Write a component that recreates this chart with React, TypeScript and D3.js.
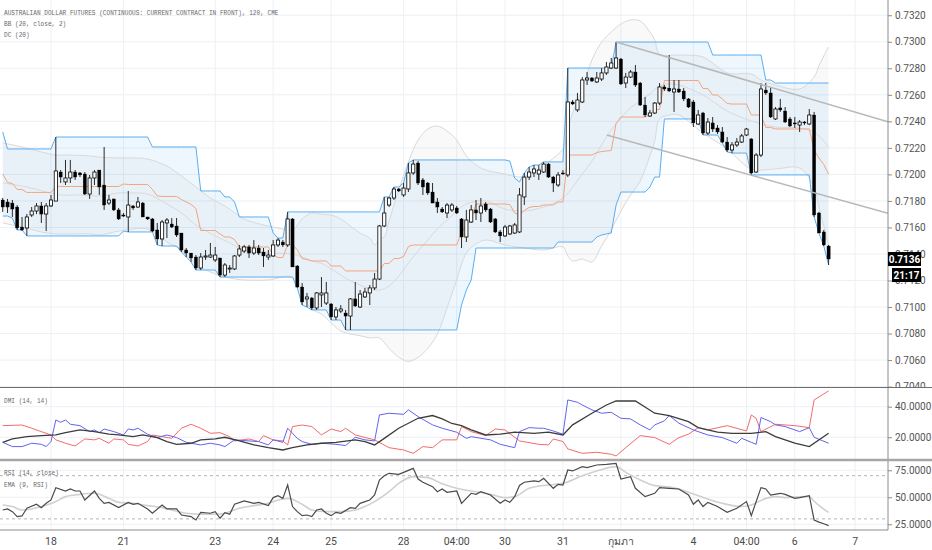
import React, { useRef, useEffect } from 'react';
import * as d3 from 'd3';

type Pt = [number, number];

// 120-minute bars, [open, high, low, close]
const candles: [number, number, number, number][] = [
  [0.71807, 0.71822, 0.71717, 0.71754], [0.71792, 0.71815, 0.71709, 0.71754], [0.71784, 0.71807, 0.71679, 0.71739],
  [0.71754, 0.71769, 0.71581, 0.71596], [0.71603, 0.71679, 0.71573, 0.71581], [0.71596, 0.71701, 0.71536, 0.71679],
  [0.71694, 0.71754, 0.71679, 0.71724], [0.71724, 0.71784, 0.71701, 0.71762], [0.71762, 0.71792, 0.71634, 0.71701],
  [0.71701, 0.71784, 0.71573, 0.71762], [0.71762, 0.71845, 0.71754, 0.71807], [0.71799, 0.72282, 0.71799, 0.72026],
  [0.72018, 0.72033, 0.71935, 0.71980], [0.71943, 0.72109, 0.71920, 0.71973], [0.71973, 0.72109, 0.71935, 0.72018],
  [0.72018, 0.72033, 0.71958, 0.71980], [0.72011, 0.72018, 0.71980, 0.71996], [0.72003, 0.72018, 0.71845, 0.71852],
  [0.71852, 0.71996, 0.71815, 0.71973], [0.71973, 0.72033, 0.71920, 0.72018], [0.72033, 0.72033, 0.71845, 0.71905],
  [0.71920, 0.72207, 0.71732, 0.71769], [0.71784, 0.71845, 0.71769, 0.71807], [0.71815, 0.71815, 0.71724, 0.71732],
  [0.71732, 0.71747, 0.71656, 0.71664], [0.71694, 0.71709, 0.71679, 0.71686], [0.71679, 0.71875, 0.71566, 0.71769],
  [0.71762, 0.71769, 0.71732, 0.71747], [0.71754, 0.71830, 0.71747, 0.71792], [0.71784, 0.71792, 0.71679, 0.71679],
  [0.71679, 0.71679, 0.71656, 0.71664], [0.71664, 0.71671, 0.71566, 0.71573], [0.71581, 0.71634, 0.71468, 0.71513],
  [0.71513, 0.71656, 0.71460, 0.71641], [0.71634, 0.71671, 0.71520, 0.71656], [0.71626, 0.71671, 0.71596, 0.71603],
  [0.71611, 0.71671, 0.71528, 0.71543], [0.71558, 0.71558, 0.71415, 0.71430], [0.71430, 0.71445, 0.71377, 0.71407],
  [0.71407, 0.71407, 0.71340, 0.71370], [0.71377, 0.71392, 0.71279, 0.71294], [0.71294, 0.71407, 0.71279, 0.71377],
  [0.71377, 0.71430, 0.71355, 0.71385], [0.71377, 0.71483, 0.71370, 0.71392], [0.71355, 0.71453, 0.71340, 0.71392],
  [0.71370, 0.71370, 0.71226, 0.71241], [0.71241, 0.71332, 0.71226, 0.71317], [0.71287, 0.71317, 0.71257, 0.71294],
  [0.71287, 0.71392, 0.71279, 0.71385], [0.71392, 0.71468, 0.71377, 0.71438], [0.71422, 0.71468, 0.71407, 0.71453],
  [0.71453, 0.71468, 0.71370, 0.71407], [0.71407, 0.71505, 0.71392, 0.71445], [0.71445, 0.71468, 0.71392, 0.71407],
  [0.71415, 0.71445, 0.71302, 0.71385], [0.71377, 0.71430, 0.71355, 0.71392], [0.71385, 0.71505, 0.71377, 0.71468],
  [0.71468, 0.71520, 0.71453, 0.71505], [0.71490, 0.71505, 0.71453, 0.71468], [0.71468, 0.71717, 0.71453, 0.71664],
  [0.71664, 0.71671, 0.71302, 0.71302], [0.71309, 0.71317, 0.71144, 0.71151], [0.71151, 0.71181, 0.71015, 0.71038],
  [0.71061, 0.71106, 0.71000, 0.71076], [0.71068, 0.71076, 0.70978, 0.70993], [0.70993, 0.71113, 0.70978, 0.71106],
  [0.71091, 0.71226, 0.71000, 0.71106], [0.71030, 0.71189, 0.71015, 0.71106], [0.71023, 0.71030, 0.70902, 0.70925],
  [0.70925, 0.71000, 0.70902, 0.70978], [0.70970, 0.71015, 0.70955, 0.70985], [0.70955, 0.70978, 0.70827, 0.70932],
  [0.70932, 0.71068, 0.70827, 0.71061], [0.71061, 0.71189, 0.71000, 0.71008], [0.71000, 0.71128, 0.70993, 0.71098],
  [0.71076, 0.71144, 0.71068, 0.71113], [0.71106, 0.71166, 0.71015, 0.71144], [0.71144, 0.71257, 0.71128, 0.71211],
  [0.71211, 0.71619, 0.71204, 0.71611], [0.71611, 0.71830, 0.71603, 0.71709], [0.71769, 0.71830, 0.71754, 0.71822],
  [0.71822, 0.71905, 0.71807, 0.71890], [0.71890, 0.71897, 0.71867, 0.71875], [0.71845, 0.71935, 0.71830, 0.71897],
  [0.71890, 0.72086, 0.71867, 0.72011], [0.72011, 0.72109, 0.71996, 0.72078], [0.72086, 0.72101, 0.71920, 0.71935],
  [0.71958, 0.71973, 0.71845, 0.71905], [0.71935, 0.71943, 0.71845, 0.71860], [0.71867, 0.71935, 0.71784, 0.71784],
  [0.71792, 0.71822, 0.71709, 0.71754], [0.71739, 0.71754, 0.71709, 0.71717], [0.71709, 0.71784, 0.71671, 0.71769],
  [0.71732, 0.71784, 0.71717, 0.71769], [0.71747, 0.71762, 0.71701, 0.71709], [0.71664, 0.71671, 0.71445, 0.71528],
  [0.71528, 0.71732, 0.71490, 0.71656], [0.71641, 0.71769, 0.71634, 0.71732], [0.71732, 0.71807, 0.71656, 0.71709],
  [0.71709, 0.71822, 0.71641, 0.71762], [0.71777, 0.71792, 0.71717, 0.71732], [0.71739, 0.71747, 0.71634, 0.71641],
  [0.71664, 0.71671, 0.71558, 0.71566], [0.71566, 0.71581, 0.71490, 0.71536], [0.71536, 0.71619, 0.71528, 0.71603],
  [0.71551, 0.71619, 0.71543, 0.71611], [0.71558, 0.71634, 0.71551, 0.71619], [0.71566, 0.71897, 0.71558, 0.71845],
  [0.71830, 0.72011, 0.71769, 0.71980], [0.71980, 0.72056, 0.71958, 0.72018], [0.72011, 0.72071, 0.71980, 0.72041],
  [0.72003, 0.72071, 0.71958, 0.72033], [0.72018, 0.72094, 0.72011, 0.72078], [0.72078, 0.72086, 0.71973, 0.71980],
  [0.71980, 0.71988, 0.71867, 0.71935], [0.71920, 0.72018, 0.71905, 0.71996], [0.72011, 0.72033, 0.71996, 0.72003],
  [0.71996, 0.72802, 0.71980, 0.72546], [0.72546, 0.72561, 0.72523, 0.72531], [0.72486, 0.72614, 0.72471, 0.72561],
  [0.72546, 0.72734, 0.72538, 0.72712], [0.72712, 0.72772, 0.72674, 0.72727], [0.72727, 0.72734, 0.72697, 0.72704],
  [0.72697, 0.72772, 0.72689, 0.72727], [0.72719, 0.72802, 0.72704, 0.72765], [0.72765, 0.72848, 0.72750, 0.72810],
  [0.72802, 0.72878, 0.72795, 0.72840], [0.72802, 0.72998, 0.72795, 0.72878], [0.72870, 0.72878, 0.72674, 0.72682],
  [0.72689, 0.72765, 0.72651, 0.72734], [0.72734, 0.72787, 0.72727, 0.72772], [0.72772, 0.72825, 0.72659, 0.72674],
  [0.72689, 0.72697, 0.72516, 0.72523], [0.72523, 0.72584, 0.72433, 0.72448], [0.72440, 0.72486, 0.72433, 0.72463],
  [0.72463, 0.72546, 0.72455, 0.72538], [0.72538, 0.72689, 0.72523, 0.72659], [0.72659, 0.72674, 0.72629, 0.72644],
  [0.72651, 0.72900, 0.72621, 0.72629], [0.72621, 0.72712, 0.72471, 0.72644], [0.72644, 0.72712, 0.72614, 0.72621],
  [0.72629, 0.72651, 0.72553, 0.72569], [0.72569, 0.72576, 0.72501, 0.72508], [0.72546, 0.72561, 0.72357, 0.72388],
  [0.72380, 0.72486, 0.72372, 0.72448], [0.72463, 0.72471, 0.72297, 0.72312], [0.72312, 0.72425, 0.72297, 0.72395],
  [0.72388, 0.72433, 0.72320, 0.72342], [0.72350, 0.72372, 0.72305, 0.72320], [0.72320, 0.72357, 0.72237, 0.72244],
  [0.72244, 0.72282, 0.72169, 0.72184], [0.72184, 0.72244, 0.72161, 0.72222], [0.72222, 0.72274, 0.72207, 0.72244],
  [0.72244, 0.72305, 0.72237, 0.72290], [0.72297, 0.72350, 0.72290, 0.72342], [0.72267, 0.72274, 0.71996, 0.72011],
  [0.72018, 0.72161, 0.72011, 0.72146], [0.72146, 0.72689, 0.72131, 0.72644], [0.72636, 0.72689, 0.72599, 0.72614],
  [0.72614, 0.72659, 0.72425, 0.72433], [0.72418, 0.72508, 0.72410, 0.72493], [0.72501, 0.72569, 0.72471, 0.72486],
  [0.72478, 0.72508, 0.72388, 0.72395], [0.72418, 0.72433, 0.72357, 0.72365], [0.72388, 0.72433, 0.72350, 0.72380],
  [0.72372, 0.72410, 0.72320, 0.72395], [0.72395, 0.72403, 0.72372, 0.72388], [0.72380, 0.72493, 0.72372, 0.72448],
  [0.72448, 0.72471, 0.71679, 0.71694], [0.71709, 0.71717, 0.71558, 0.71558], [0.71566, 0.71581, 0.71460, 0.71468],
  [0.71460, 0.71468, 0.71317, 0.71362]
];

// Donchian channel (20): [first bar, value] steps
const dcUpperSteps: Pt[] = [
  [0, 0.72320], [1, 0.72192], [11, 0.72282], [31, 0.72207], [41, 0.71875], [46, 0.71830], [48, 0.71792],
  [49, 0.71679], [56, 0.71558], [57, 0.71520], [59, 0.71717], [79, 0.71830], [81, 0.71905], [83, 0.71935],
  [84, 0.72086], [85, 0.72109], [105, 0.72101], [106, 0.71973], [107, 0.71943], [108, 0.72011], [109, 0.72056],
  [110, 0.72071], [112, 0.72094], [117, 0.72802], [127, 0.72998], [147, 0.72900], [158, 0.72712], [160, 0.72689]
];
const dcLowerSteps: Pt[] = [
  [0, 0.71686], [2, 0.71671], [3, 0.71581], [5, 0.71536], [25, 0.71573], [26, 0.71566], [32, 0.71468],
  [33, 0.71460], [37, 0.71415], [38, 0.71377], [39, 0.71340], [40, 0.71279], [45, 0.71226], [61, 0.71144],
  [62, 0.71015], [63, 0.71000], [64, 0.70978], [68, 0.70902], [71, 0.70827], [95, 0.71015], [96, 0.71128],
  [97, 0.71204], [98, 0.71445], [115, 0.71490], [123, 0.71528], [124, 0.71543], [125, 0.71551], [126, 0.71558],
  [127, 0.71769], [128, 0.71867], [134, 0.71905], [135, 0.71980], [137, 0.72418], [145, 0.72297], [149, 0.72237],
  [150, 0.72169], [151, 0.72161], [155, 0.71996], [168, 0.71679], [169, 0.71558], [170, 0.71460], [171, 0.71317]
];

// Bollinger bands (20, close, 2)
const bbUpper: Pt[] = [
  [0, 0.72237], [4, 0.72207], [8, 0.72169], [11, 0.72146], [14, 0.72146], [18, 0.72139], [20, 0.72131],
  [24, 0.72124], [27, 0.72124], [30, 0.72116], [34, 0.72063], [37, 0.71988], [40, 0.71905], [43, 0.71822],
  [46, 0.71762], [50, 0.71664], [54, 0.71619], [57, 0.71596], [60, 0.71581], [62, 0.71664], [64, 0.71709],
  [66, 0.71701], [68, 0.71694], [70, 0.71664], [72, 0.71611], [74, 0.71558], [76, 0.71520], [77, 0.71468],
  [78, 0.71513], [79, 0.71528], [80, 0.71649], [81, 0.71769], [82, 0.71882], [84, 0.72094], [86, 0.72259],
  [88, 0.72342], [90, 0.72365], [92, 0.72327], [94, 0.72259], [96, 0.72139], [98, 0.72071], [100, 0.72033],
  [104, 0.72003], [107, 0.71980], [110, 0.72018], [113, 0.72094], [116, 0.72192], [117, 0.72342], [118, 0.72463],
  [120, 0.72644], [122, 0.72863], [124, 0.72997], [126, 0.73074], [128, 0.73134], [130, 0.73164], [132, 0.73157],
  [134, 0.73074], [135, 0.73013], [136, 0.72908], [140, 0.72900], [145, 0.72885], [150, 0.72765], [155, 0.72757],
  [157, 0.72712], [160, 0.72674], [165, 0.72644], [168, 0.72734], [169, 0.72818], [170, 0.72893], [171, 0.72961]
];
const bbBasis: Pt[] = [
  [0, 0.71935], [5, 0.71905], [9, 0.71867], [12, 0.71845], [16, 0.71845], [20, 0.71837], [24, 0.71860],
  [27, 0.71860], [30, 0.71852], [34, 0.71777], [37, 0.71709], [40, 0.71619], [44, 0.71536], [47, 0.71483],
  [50, 0.71430], [55, 0.71407], [60, 0.71400], [62, 0.71377], [64, 0.71347], [66, 0.71329], [68, 0.71287],
  [70, 0.71241], [72, 0.71196], [74, 0.71166], [76, 0.71136], [78, 0.71128], [80, 0.71159], [82, 0.71234],
  [84, 0.71332], [86, 0.71422], [88, 0.71505], [90, 0.71588], [92, 0.71656], [94, 0.71724], [96, 0.71777],
  [100, 0.71800], [104, 0.71739], [108, 0.71724], [112, 0.71754], [116, 0.71822], [118, 0.71905], [120, 0.72003],
  [122, 0.72101], [124, 0.72222], [126, 0.72335], [128, 0.72425], [130, 0.72501], [132, 0.72553], [134, 0.72606],
  [136, 0.72667], [138, 0.72682], [140, 0.72674], [145, 0.72599], [150, 0.72478], [155, 0.72403], [160, 0.72357],
  [165, 0.72350], [168, 0.72320], [169, 0.72290], [170, 0.72252], [171, 0.72207]
];
const bbLower: Pt[] = [
  [0, 0.71634], [4, 0.71603], [8, 0.71566], [11, 0.71551], [14, 0.71551], [18, 0.71551], [20, 0.71543],
  [24, 0.71573], [27, 0.71588], [30, 0.71588], [34, 0.71490], [37, 0.71430], [40, 0.71324], [44, 0.71249],
  [47, 0.71219], [50, 0.71204], [55, 0.71204], [60, 0.71226], [62, 0.71091], [64, 0.70985], [66, 0.70947],
  [68, 0.70880], [70, 0.70819], [72, 0.70796], [74, 0.70784], [76, 0.70767], [78, 0.70767], [80, 0.70688],
  [82, 0.70621], [84, 0.70590], [86, 0.70621], [88, 0.70688], [90, 0.70796], [92, 0.70993], [94, 0.71204],
  [96, 0.71407], [98, 0.71475], [100, 0.71505], [104, 0.71468], [108, 0.71445], [112, 0.71430], [116, 0.71453],
  [117, 0.71385], [118, 0.71347], [120, 0.71362], [122, 0.71340], [124, 0.71460], [126, 0.71581], [128, 0.71724],
  [130, 0.71845], [132, 0.71950], [134, 0.72139], [135, 0.72252], [136, 0.72418], [138, 0.72448], [140, 0.72448],
  [145, 0.72312], [150, 0.72192], [155, 0.72041], [160, 0.72041], [165, 0.72048], [168, 0.71905], [169, 0.71754],
  [170, 0.71611], [171, 0.71460]
];

// DMI (14, 14)
const plusDI: Pt[] = [
  [0, 16.7], [2, 13.9], [4, 13.9], [6, 16.1], [8, 15.4], [9, 13.9], [10, 17.2], [11, 31.3], [12, 29.8], [13, 31.3],
  [14, 28.5], [16, 27.6], [18, 23.7], [19, 24.8], [20, 23], [21, 25.4], [23, 23.7], [25, 21.5], [26, 25.4], [27, 24.8],
  [28, 25.9], [30, 22], [32, 19.8], [34, 21.5], [36, 19.8], [38, 16.7], [41, 15], [43, 16.1], [45, 15], [46, 13.9],
  [48, 18.3], [51, 17.6], [53, 17.2], [55, 15], [56, 18.3], [58, 16.7], [59, 25.9], [61, 19.3], [62, 17.2], [64, 15.4],
  [66, 16.1], [69, 15.4], [71, 14.6], [73, 20], [75, 18.3], [77, 17.6], [78, 34.6], [80, 35.7], [83, 35], [84, 37.9],
  [86, 33.5], [89, 28.1], [91, 25.9], [94, 23.3], [96, 19.3], [97, 20.4], [101, 18.3], [103, 15.4], [106, 13.2],
  [107, 23.7], [109, 26.3], [111, 25.9], [112, 25.9], [114, 24.1], [116, 22], [117, 44.4], [119, 42.9], [120, 41.1],
  [122, 37.9], [124, 35.7], [126, 36.3], [128, 32.4], [130, 32], [132, 28.1], [134, 24.8], [135, 28.1], [137, 30.7],
  [138, 34.2], [140, 29.2], [143, 24.8], [146, 21.5], [149, 19.8], [152, 16.1], [153, 19.3], [155, 16.7], [156, 15.4],
  [157, 32.9], [159, 30.2], [160, 28.1], [162, 27], [165, 23.7], [167, 26.3], [168, 20], [171, 16.1]
];
const minusDI: Pt[] = [
  [0, 27.6], [4, 28], [6, 25.9], [8, 23.7], [10, 21.5], [11, 18.3], [13, 16.1], [15, 14.3], [17, 18.9], [19, 18.3],
  [20, 19.3], [22, 16.1], [23, 18.9], [25, 18.3], [26, 15.4], [28, 14.3], [30, 17.2], [31, 21.5], [33, 20.4], [35, 19.3],
  [37, 25.9], [39, 28.5], [41, 25.9], [43, 22.6], [45, 23], [47, 20.4], [48, 17.6], [51, 18.9], [53, 17.2], [54, 21.1],
  [56, 18.3], [58, 17.6], [59, 15], [60, 27], [62, 28], [64, 27], [66, 21.5], [68, 25.4], [70, 23.7], [71, 25.9],
  [73, 21.5], [77, 18.3], [80, 13.2], [83, 11.7], [85, 9.5], [87, 13.9], [89, 13.2], [91, 18.3], [94, 18.3], [95, 27],
  [97, 23.7], [100, 21.1], [102, 25.4], [104, 24.8], [107, 17.6], [111, 15.4], [113, 15], [114, 18.9], [116, 17.2],
  [117, 12.4], [120, 9.5], [123, 10.2], [126, 8.9], [127, 7.8], [129, 13.2], [132, 21.1], [135, 19.8], [138, 15.4],
  [140, 19.8], [142, 22], [144, 26.3], [146, 24.8], [150, 27.6], [154, 24.1], [155, 34.6], [156, 32.4], [157, 23.7],
  [160, 28.5], [164, 27.6], [167, 26.3], [168, 44.4], [171, 50.3]
];
const adx: Pt[] = [
  [0, 16.7], [2, 18.9], [5, 20.4], [8, 21.1], [11, 21.5], [13, 23], [16, 24.8], [19, 23.7], [22, 22], [24, 21.5],
  [27, 20.4], [29, 21.5], [32, 19.8], [34, 17.2], [36, 15.4], [39, 16.1], [41, 18.3], [44, 18.9], [46, 20], [49, 17.6],
  [52, 15], [55, 13.2], [58, 11.7], [60, 13.2], [63, 15], [66, 16.1], [69, 16.7], [73, 18.3], [75, 17.2], [77, 15],
  [79, 19.3], [82, 25.9], [86, 32.4], [89, 34.2], [91, 32], [93, 29], [95, 27.6], [97, 24.8], [100, 21.5], [103, 22],
  [106, 23.3], [110, 22.6], [113, 23.3], [116, 21.5], [118, 28.1], [122, 35.7], [125, 41.1], [127, 43.7], [131, 43.7],
  [135, 35.7], [138, 34.2], [142, 30.2], [144, 26.3], [148, 23.3], [151, 22.6], [155, 22.6], [158, 23.7], [160, 20.4],
  [164, 16.1], [167, 13.9], [171, 22.6]
];

// RSI (14, close) and EMA (9, RSI)
const rsi: Pt[] = [
  [0, 38.2], [1, 39.2], [2, 36.7], [3, 32.1], [4, 32.7], [5, 39.8], [7, 43.5], [8, 40.4], [9, 44.4], [10, 47.5],
  [11, 58.9], [13, 55.8], [14, 57.7], [15, 55.8], [16, 55.8], [17, 47.5], [19, 55.8], [20, 49], [21, 44.4], [22, 45.3],
  [24, 40.4], [26, 45.3], [27, 43.5], [28, 44.4], [30, 39.2], [31, 35.2], [33, 42.9], [34, 39.2], [36, 39.2], [37, 33.6],
  [39, 32.1], [40, 29], [41, 36.1], [43, 35.2], [44, 36.7], [45, 30.6], [46, 35.8], [47, 34.3], [48, 43.5], [50, 46.6],
  [52, 44.4], [53, 45.3], [55, 42.3], [56, 49.7], [57, 51.5], [58, 49], [59, 61.4], [60, 41.4], [61, 36.7], [62, 33],
  [63, 33.6], [64, 32.1], [65, 38.2], [66, 39.2], [67, 35.2], [68, 33], [69, 36.1], [70, 35.2], [72, 40.4], [73, 39.8],
  [74, 44.4], [75, 46], [76, 47.5], [77, 52.1], [78, 66], [79, 70], [80, 72.2], [82, 71.3], [83, 73.1], [85, 76.8],
  [86, 66.9], [87, 63.9], [89, 59.8], [90, 55.2], [91, 57.7], [92, 54.6], [94, 55.8], [95, 44.4], [97, 53.7], [98, 52.7],
  [99, 55.2], [101, 52.1], [103, 44.4], [104, 47.5], [105, 45.3], [106, 50.6], [107, 61], [108, 63.9], [110, 65.1],
  [111, 64.5], [112, 67.5], [114, 58.3], [115, 62], [116, 61.4], [117, 75.3], [118, 74.4], [120, 78.4], [121, 77.4],
  [123, 79.9], [125, 80.5], [127, 81.4], [128, 66.9], [130, 69.1], [131, 58.3], [133, 50.6], [135, 53.7], [136, 58.9],
  [138, 58.3], [140, 57.7], [142, 52.1], [143, 43.5], [144, 47.5], [145, 41.4], [146, 45.3], [148, 41.4], [150, 36.1],
  [152, 39.8], [154, 46], [155, 33], [157, 58.9], [158, 57.7], [159, 52.1], [161, 53.7], [162, 52.7], [164, 49],
  [165, 49.7], [167, 51.5], [168, 29], [169, 27], [170, 25.5], [171, 23.7]
];
const rsiEma: Pt[] = [
  [0, 42.9], [2, 41.4], [4, 38.2], [6, 39.2], [8, 41.4], [11, 46], [13, 50.6], [16, 52.7], [19, 53.7], [22, 49],
  [24, 45.3], [27, 44.4], [30, 42.3], [33, 40.4], [35, 38.2], [38, 35.2], [41, 34.3], [44, 34.3], [46, 35.2], [49, 39.8],
  [52, 42.3], [55, 44.4], [57, 47.5], [59, 49], [62, 43.5], [64, 38.2], [67, 36.7], [70, 36.7], [73, 38.2], [75, 41.4],
  [77, 46], [80, 55.2], [82, 62.9], [85, 69.1], [88, 68.2], [91, 62.5], [94, 58.3], [97, 55.8], [101, 52.7], [104, 49.7],
  [106, 50.6], [109, 58.3], [113, 61.4], [116, 62.9], [120, 70], [123, 74.4], [127, 78.4], [129, 73.1], [132, 66],
  [135, 60.8], [139, 58.9], [142, 54.6], [146, 48.4], [149, 44.4], [153, 41.4], [155, 42.9], [158, 49], [160, 50.6],
  [162, 49.7], [166, 50.6], [167, 50.6], [168, 46.3], [169, 42.4], [170, 39], [171, 36]
];

// drawn trend channel: [bar, price] end points
const trendLines: [Pt, Pt][] = [
  [[127, 0.72998], [183.3, 0.72397]],
  [[125.05, 0.72297], [183.3, 0.71707]]
];

const priceTicks = [0.7040, 0.7060, 0.7080, 0.7100, 0.7120, 0.7140, 0.7160, 0.7180, 0.7200, 0.7220, 0.7240, 0.7260, 0.7280, 0.7300, 0.7320];
const dmiTicks = [20, 40];
const rsiTicks = [25, 50, 75];
const rsiBands = [30, 70];
const timeLabels: [number, string][] = [
  [10, '18'], [25, '21'], [44, '23'], [56, '24'], [68, '25'], [83, '28'], [94, '04:00'], [104, '30'],
  [116, '31'], [128, 'กุมภา'], [143, '4'], [154, '04:00'], [164, '6'], [176.5, '7']
];
const legendTop = ['AUSTRALIAN DOLLAR FUTURES (CONTINUOUS: CURRENT CONTRACT IN FRONT), 120, CME', 'BB (20, close, 2)', 'DC (20)'];
const barCountdown = '21:17';

export default function App() {
  const svgRef = useRef<SVGSVGElement>(null);

  useEffect(() => {
    const svg = d3.select(svgRef.current);
    svg.selectAll('*').remove();

    const width = 932;
    const height = 550;
    const plotRight = 888;
    const axisFont = 'Roboto, "Liberation Sans", sans-serif';
    const legendFont = '"Liberation Mono", "DejaVu Sans Mono", monospace';

    const x = d3.scaleLinear().domain([0, candles.length - 1]).range([2.7, 828.6]);
    const yPrice = d3.scaleLinear().domain([0.70397, 0.73315]).range([387, 0]);
    const yDmi = d3.scaleLinear().domain([5.8, 52.2]).range([459, 388]);
    const yRsi = d3.scaleLinear().domain([19.7, 83.6]).range([530, 461]);

    svg.attr('width', width).attr('height', height);
    svg.append('rect').attr('width', width).attr('height', height).attr('fill', '#fff');

    const defs = svg.append('defs');
    const addClip = (id: string, x0: number, y0: number, w: number, h: number) =>
      defs.append('clipPath').attr('id', id).append('rect').attr('x', x0).attr('y', y0).attr('width', w).attr('height', h);
    addClip('clip-price', 0, 0, plotRight, 387);
    addClip('clip-dmi', 0, 388, plotRight, 71);
    addClip('clip-rsi', 0, 461, plotRight, 69);
    addClip('clip-price-axis', plotRight, 0, width - plotRight, 387);

    // grid
    const grid = svg.append('g').attr('stroke', '#edf0f5').attr('stroke-width', 1);
    timeLabels.forEach(([i]) => {
      grid.append('line').attr('x1', x(i)).attr('x2', x(i)).attr('y1', 0).attr('y2', 530);
    });
    priceTicks.forEach(p => {
      grid.append('line').attr('x1', 0).attr('x2', plotRight).attr('y1', yPrice(p)).attr('y2', yPrice(p));
    });
    dmiTicks.forEach(v => {
      grid.append('line').attr('x1', 0).attr('x2', plotRight).attr('y1', yDmi(v)).attr('y2', yDmi(v));
    });
    rsiTicks.forEach(v => {
      grid.append('line').attr('x1', 0).attr('x2', plotRight).attr('y1', yRsi(v)).attr('y2', yRsi(v));
    });

    // ---- price pane
    const price = svg.append('g').attr('clip-path', 'url(#clip-price)');

    const bbCurve = d3.line<Pt>().x(d => x(d[0])).y(d => yPrice(d[1])).curve(d3.curveCatmullRom.alpha(0.5));
    const upperPath = bbCurve(bbUpper) as string;
    const lowerBack = bbCurve([...bbLower].reverse()) as string;
    price.append('path').attr('d', upperPath + 'L' + lowerBack.slice(1) + 'Z').attr('fill', 'rgba(0,0,0,0.025)');

    const stepValue = (steps: Pt[], i: number) => {
      let v = steps[0][1];
      for (const [k, p] of steps) {
        if (k <= i) v = p;
        else break;
      }
      return v;
    };
    const dc = candles.map((_, i) => {
      const u = stepValue(dcUpperSteps, i);
      const l = stepValue(dcLowerSteps, i);
      return { i, u, l, m: (u + l) / 2 };
    });
    price.append('path')
      .attr('d', d3.area<typeof dc[0]>().x(d => x(d.i)).y0(d => yPrice(d.l)).y1(d => yPrice(d.u))(dc) as string)
      .attr('fill', 'rgba(33,150,243,0.075)');

    [bbUpper, bbBasis, bbLower].forEach(pts => {
      price.append('path').attr('d', bbCurve(pts) as string).attr('fill', 'none')
        .attr('stroke', '#d9d9d9').attr('stroke-width', 1);
    });

    const dcLine = (key: 'u' | 'l' | 'm') =>
      d3.line<typeof dc[0]>().x(d => x(d.i)).y(d => yPrice(d[key]))(dc) as string;
    price.append('path').attr('d', dcLine('u')).attr('fill', 'none').attr('stroke', '#5aaef2').attr('stroke-width', 1);
    price.append('path').attr('d', dcLine('l')).attr('fill', 'none').attr('stroke', '#5aaef2').attr('stroke-width', 1);
    price.append('path').attr('d', dcLine('m')).attr('fill', 'none').attr('stroke', '#f2a57f').attr('stroke-width', 1);

    // candles
    const bodyW = 3.2;
    const bars = price.append('g').selectAll('g.bar').data(candles).enter().append('g').attr('class', 'bar');
    bars.append('line')
      .attr('x1', (_, i) => x(i)).attr('x2', (_, i) => x(i))
      .attr('y1', d => yPrice(d[1])).attr('y2', d => yPrice(d[2]))
      .attr('stroke', '#2a2a2a').attr('stroke-width', 1);
    bars.append('rect')
      .attr('x', (_, i) => x(i) - bodyW / 2)
      .attr('y', d => yPrice(Math.max(d[0], d[3])))
      .attr('width', bodyW)
      .attr('height', d => Math.max(yPrice(Math.min(d[0], d[3])) - yPrice(Math.max(d[0], d[3])), 1))
      .attr('fill', d => (d[3] >= d[0] ? '#ffffff' : '#000000'))
      .attr('stroke', '#000')
      .attr('stroke-width', d => (d[3] >= d[0] ? 0.8 : 0.3));

    // trend channel
    trendLines.forEach(([a, b]) => {
      price.append('line')
        .attr('x1', x(a[0])).attr('y1', yPrice(a[1]))
        .attr('x2', x(b[0])).attr('y2', yPrice(b[1]))
        .attr('stroke', '#b8b8b8').attr('stroke-width', 1.5);
    });

    // ---- DMI pane
    const dmi = svg.append('g').attr('clip-path', 'url(#clip-dmi)');
    const dmiLine = d3.line<Pt>().x(d => x(d[0])).y(d => yDmi(d[1]));
    dmi.append('path').attr('d', dmiLine(minusDI) as string).attr('fill', 'none').attr('stroke', '#f26b6b').attr('stroke-width', 1);
    dmi.append('path').attr('d', dmiLine(plusDI) as string).attr('fill', 'none').attr('stroke', '#6262f0').attr('stroke-width', 1);
    dmi.append('path').attr('d', dmiLine(adx) as string).attr('fill', 'none').attr('stroke', '#3c3c3c').attr('stroke-width', 1.3);

    // ---- RSI pane
    const rsiG = svg.append('g').attr('clip-path', 'url(#clip-rsi)');
    rsiBands.forEach(v => {
      rsiG.append('line').attr('x1', 0).attr('x2', plotRight).attr('y1', yRsi(v)).attr('y2', yRsi(v))
        .attr('stroke', '#b4b4b4').attr('stroke-width', 1).attr('stroke-dasharray', '3,3');
    });
    rsiG.append('path')
      .attr('d', d3.line<Pt>().x(d => x(d[0])).y(d => yRsi(d[1])).curve(d3.curveMonotoneX)(rsiEma) as string)
      .attr('fill', 'none').attr('stroke', '#d0d0d0').attr('stroke-width', 1.6);
    rsiG.append('path')
      .attr('d', d3.line<Pt>().x(d => x(d[0])).y(d => yRsi(d[1]))(rsi) as string)
      .attr('fill', 'none').attr('stroke', '#4a4a4a').attr('stroke-width', 1.2);

    // ---- pane frames
    svg.append('line').attr('x1', plotRight).attr('x2', plotRight).attr('y1', 0).attr('y2', 530)
      .attr('stroke', '#8c8c8c').attr('stroke-width', 1);
    svg.append('line').attr('x1', 0).attr('x2', width).attr('y1', 387.5).attr('y2', 387.5)
      .attr('stroke', '#6e6e6e').attr('stroke-width', 1.2);
    svg.append('line').attr('x1', 0).attr('x2', width).attr('y1', 460).attr('y2', 460)
      .attr('stroke', '#a6a6a6').attr('stroke-width', 2.5);
    svg.append('line').attr('x1', 0).attr('x2', plotRight).attr('y1', 530).attr('y2', 530)
      .attr('stroke', '#8c8c8c').attr('stroke-width', 1);

    // ---- right axes
    const styleAxis = (g: any) => {
      g.select('.domain').remove();
      g.selectAll('line').attr('stroke', '#8c8c8c');
      g.selectAll('text').attr('fill', '#555').attr('font-family', axisFont).attr('font-size', 10);
    };
    const priceAxisHolder = svg.append('g').attr('clip-path', 'url(#clip-price-axis)');
    const priceAxis = priceAxisHolder.append('g')
      .attr('transform', `translate(${plotRight},0)`)
      .call(d3.axisRight(yPrice).tickValues(priceTicks).tickFormat(d3.format('.4f')).tickSize(4).tickPadding(3));
    styleAxis(priceAxis);
    const dmiAxis = svg.append('g')
      .attr('transform', `translate(${plotRight},0)`)
      .call(d3.axisRight(yDmi).tickValues(dmiTicks).tickFormat(d3.format('.4f')).tickSize(4).tickPadding(3));
    styleAxis(dmiAxis);
    const rsiAxis = svg.append('g')
      .attr('transform', `translate(${plotRight},0)`)
      .call(d3.axisRight(yRsi).tickValues(rsiTicks).tickFormat(d3.format('.4f')).tickSize(4).tickPadding(3));
    styleAxis(rsiAxis);

    // last price + bar countdown
    const last = candles[candles.length - 1][3];
    const ly = yPrice(last);
    svg.append('rect').attr('x', plotRight).attr('y', ly - 7).attr('width', 33).attr('height', 14).attr('fill', '#000');
    svg.append('text').attr('x', plotRight + 16.5).attr('y', ly + 3.6).attr('text-anchor', 'middle')
      .attr('fill', '#fff').attr('font-family', axisFont).attr('font-size', 10).attr('font-weight', 'bold')
      .text(last.toFixed(4));
    svg.append('rect').attr('x', plotRight + 4).attr('y', ly + 9).attr('width', 29).attr('height', 14).attr('fill', '#000');
    svg.append('text').attr('x', plotRight + 18.5).attr('y', ly + 19.6).attr('text-anchor', 'middle')
      .attr('fill', '#fff').attr('font-family', axisFont).attr('font-size', 10).attr('font-weight', 'bold')
      .text(barCountdown);

    // time axis
    svg.append('g').selectAll('text').data(timeLabels).enter().append('text')
      .attr('x', d => x(d[0])).attr('y', 545)
      .attr('text-anchor', 'middle')
      .attr('fill', '#4a4a4a').attr('font-family', axisFont).attr('font-size', 10.5)
      .text(d => d[1]);

    // legends
    const legend = (label: string, y: number) => {
      svg.append('text').attr('x', 4).attr('y', y)
        .attr('fill', '#6a6a6a').attr('font-family', legendFont).attr('font-size', 7.6)
        .attr('textLength', label.length * 3.66).attr('lengthAdjust', 'spacingAndGlyphs')
        .text(label);
    };
    legendTop.forEach((t, k) => legend(t, 14.8 + k * 11));
    legend('DMI (14, 14)', 402.6);
    legend('RSI (14, close)', 475.4);
    legend('EMA (9, RSI)', 486.8);
  }, []);

  return <svg ref={svgRef} width={932} height={550} style={{ position: 'absolute', left: 0, top: 0 }} />;
}
